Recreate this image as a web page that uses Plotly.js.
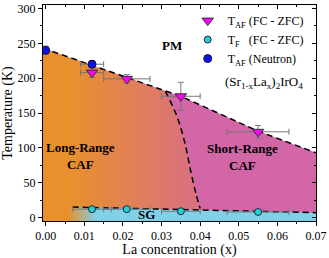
<!DOCTYPE html>
<html>
<head>
<meta charset="utf-8">
<script src="https://cdn.plot.ly/plotly-3.0.1.min.js"></script>
<style>html,body{margin:0;padding:0;background:#fff}#chart{width:329px;height:258px}</style>
</head>
<body>
<div id="chart"></div>
<script>
// ---- data ----
const xMin = -0.0007, xMax = 0.07, yMin = -5, yMax = 305;

// T_AF from FC - ZFC (magenta down-triangles)
const tafFcX = [0.012, 0.021, 0.035, 0.055];
const tafFcY = [208, 199, 174, 123];
const tafFcXErr = [0.003, 0.006, 0.005, 0.008];
const tafFcYErr = [7, 6, 20, 9];

// T_F from FC - ZFC (cyan circles)
const tfX = [0.012, 0.021, 0.035, 0.055];
const tfY = [12, 12, 9, 8];
const tfXErr = [0.005, 0.006, 0.005, 0.008];

// T_AF from neutron (blue circles)
const tnX = [0.0, 0.012];
const tnY = [240, 220];
const tnXErr = [0, 0.003];
const tnYErr = [6, 5];

// PM / CAF boundary (dashed)
const bndX = [xMin, 0.021, 0.031, 0.035, 0.055, 0.07];
const bndY = [243, 201, 181, 174, 124, 93];
// long-range / short-range crossover (dashed)
const crossX = [0.031, 0.034, 0.036, 0.0375, 0.039, 0.040];
const crossY = [181, 145, 108, 68, 32, 13];
// spin-glass boundary (dashed)
const sgX = [0.007, 0.07];
const sgY = [15, 7];

// ---- colours ----
const cOrange = '#E8912C', cSalmon = '#DA717C', cPink = '#D366A6', cBlue = '#80D0E8';

// polygons built from the arrays
const pinkX = bndX.concat([xMax, xMin]);
const pinkY = bndY.concat([yMin, yMin]);

const nLeft = bndX.indexOf(crossX[0]);
const leftX = bndX.slice(0, nLeft).concat(crossX).concat([crossX[crossX.length-1], xMin]);
const leftY = bndY.slice(0, nLeft).concat(crossY).concat([yMin, yMin]);

const sgPolyX = [xMin].concat(sgX).concat([xMax, xMin]);
const sgPolyY = [sgY[0]].concat(sgY).concat([yMin, yMin]);

const serif = 'Liberation Serif, Times New Roman, serif';
const dash = {color: 'black', width: 1.5, dash: '6px,4px'};
const errStyle = {color: '#777', thickness: 1, width: 3};

const traces = [
  {x: pinkX, y: pinkY, mode: 'lines', fill: 'toself', fillcolor: cPink,
   line: {width: 0}, showlegend: false, hoverinfo: 'skip'},
  {x: leftX, y: leftY, mode: 'lines', fill: 'toself', fillcolor: cOrange,
   fillgradient: {type: 'horizontal', start: 0.006, stop: 0.037,
                  colorscale: [[0, cOrange], [1, cSalmon]]},
   line: {width: 0}, showlegend: false, hoverinfo: 'skip'},
  {x: sgPolyX, y: sgPolyY, mode: 'lines', fill: 'toself', fillcolor: cBlue,
   fillgradient: {type: 'horizontal', start: 0.006, stop: 0.013,
                  colorscale: [[0, cOrange], [1, cBlue]]},
   line: {width: 0}, showlegend: false, hoverinfo: 'skip'},
  {x: bndX, y: bndY, mode: 'lines', line: dash, showlegend: false, hoverinfo: 'skip'},
  {x: crossX, y: crossY, mode: 'lines', line: Object.assign({}, dash, {shape: 'spline'}), showlegend: false, hoverinfo: 'skip'},
  {x: sgX, y: sgY, mode: 'lines', line: dash, showlegend: false, hoverinfo: 'skip'},
  {x: tafFcX, y: tafFcY, mode: 'markers', name: 'T<sub>AF</sub> (FC - ZFC)',
   marker: {symbol: 'triangle-down', size: 10, color: '#FF00FF', line: {color: '#333', width: 1}},
   error_x: Object.assign({type: 'data', array: tafFcXErr}, errStyle),
   error_y: Object.assign({type: 'data', array: tafFcYErr}, errStyle)},
  {x: tfX, y: tfY, mode: 'markers', name: 'T<sub>F</sub>\u00a0\u00a0 (FC - ZFC)',
   marker: {symbol: 'circle', size: 7, color: '#22D0C8', line: {color: '#225', width: 1}},
   error_x: Object.assign({type: 'data', array: tfXErr}, errStyle)},
  {x: tnX, y: tnY, mode: 'markers', name: 'T<sub>AF</sub> (Neutron)',
   marker: {symbol: 'circle', size: 8, color: '#1010E8', line: {color: '#113', width: 1}},
   error_x: Object.assign({type: 'data', array: tnXErr}, errStyle),
   error_y: Object.assign({type: 'data', array: tnYErr}, errStyle)},
  // invisible trace to carry the mirrored top/right axes
  {x: tnX, y: tnY, xaxis: 'x2', yaxis: 'y2', mode: 'markers', marker: {opacity: 0},
   showlegend: false, hoverinfo: 'skip'}
];

const axCommon = {showline: true, linecolor: 'black', linewidth: 1, showgrid: false,
                  zeroline: false, tickcolor: 'black', tickwidth: 1};

const layout = {
  width: 329, height: 258,
  margin: {l: 43, r: 13, t: 5, b: 37},
  paper_bgcolor: 'white', plot_bgcolor: 'white',
  font: {family: serif, color: 'black', size: 12},
  showlegend: true,
  legend: {x: 0.53, y: 0.995, xanchor: 'left', yanchor: 'top', bgcolor: 'rgba(0,0,0,0)',
           font: {family: serif, size: 12, color: 'black'}, itemwidth: 30, tracegroupgap: 0},
  xaxis: Object.assign({}, axCommon, {range: [xMin, xMax], tick0: 0, dtick: 0.01, tickformat: '.2f',
    ticks: 'outside', ticklen: 4,
    minor: {dtick: 0.005, ticks: 'outside', ticklen: 2, tickcolor: 'black'},
    title: {text: 'La concentration (x)', font: {family: serif, size: 14}, standoff: 4},
    tickfont: {family: serif, size: 12}}),
  yaxis: Object.assign({}, axCommon, {range: [yMin, yMax], tick0: 0, dtick: 50,
    ticks: 'outside', ticklen: 4,
    minor: {dtick: 25, ticks: 'outside', ticklen: 2, tickcolor: 'black'},
    title: {text: 'Temperature (K)', font: {family: serif, size: 14}, standoff: 4},
    tickfont: {family: serif, size: 12}}),
  xaxis2: Object.assign({}, axCommon, {range: [xMin, xMax], overlaying: 'x', side: 'top', anchor: 'y2',
    tick0: 0, dtick: 0.01, ticks: 'inside', ticklen: 4, showticklabels: false,
    minor: {dtick: 0.005, ticks: 'inside', ticklen: 2, tickcolor: 'black'}}),
  yaxis2: Object.assign({}, axCommon, {range: [yMin, yMax], overlaying: 'y', side: 'right', anchor: 'x2',
    tick0: 0, dtick: 50, ticks: 'inside', ticklen: 4, showticklabels: false,
    minor: {dtick: 25, ticks: 'inside', ticklen: 2, tickcolor: 'black'}}),
  annotations: [
    {x: 0.0327, y: 247, text: '<b>PM</b>', showarrow: false, font: {family: serif, size: 13}},
    {x: 0.0565, y: 194, text: '(Sr<sub>1-x</sub>La<sub>x</sub>)<sub>2</sub>IrO<sub>4</sub>', showarrow: false, font: {family: serif, size: 13}},
    {x: 0.009, y: 88, text: '<b>Long-Range<br>CAF</b>', showarrow: false, font: {family: serif, size: 13}},
    {x: 0.051, y: 87, text: '<b>Short-Range<br>CAF</b>', showarrow: false, font: {family: serif, size: 13}},
    {x: 0.026, y: 5, text: '<b>SG</b>', showarrow: false, font: {family: serif, size: 13}}
  ]
};

Plotly.newPlot('chart', traces, layout, {staticPlot: true, displayModeBar: false});
</script>
</body>
</html>
